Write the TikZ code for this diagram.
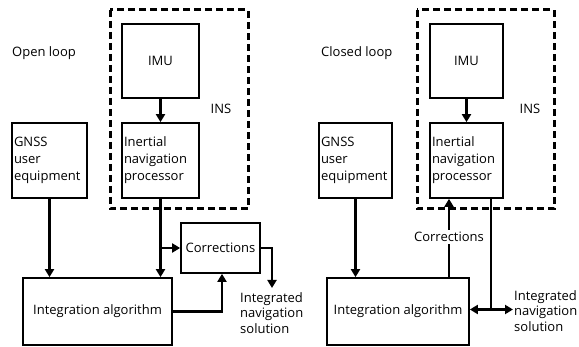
\documentclass[tikz,border=0pt]{standalone}
\usepackage{fontspec}
\setmainfont{Open Sans}
\usetikzlibrary{arrows.meta}
\begin{document}
\begin{tikzpicture}[x=1pt,y=-1pt,
  box/.style={draw, line width=1.7pt, inner sep=0pt, font=\fontsize{13}{17}\selectfont},
  tbox/.style={box, inner xsep=2pt, align=left},
  arr/.style={line width=2.4pt, -{Triangle[length=8pt,width=9pt]}},
  darr/.style={line width=2.4pt, {Triangle[length=8pt,width=9pt]}-{Triangle[length=8pt,width=9pt]}},
  ln/.style={line width=2.4pt},
  frame/.style={draw, line width=3pt, dash pattern=on 7pt off 4pt},
  txt/.style={inner sep=0pt, font=\fontsize{13}{15.5}\selectfont, align=left}]
\useasboundingbox (0,0) rectangle (579,347);
\fill[white] (0,0) rectangle (579,347);

% ---------------- Left: open loop ----------------
\node[txt, anchor=west] (olab) at (12,53) {Open loop};
\draw[frame] (110,10) rectangle (248,209);
\node[box, minimum width=77pt, minimum height=74pt] (imuL) at (160.5,61) {IMU};
\node[tbox, minimum width=77pt, minimum height=75pt, text width=73pt] (inpL) at (160.5,160.5)
  {Inertial\\navigation\\processor};
\node[txt] (insL) at (221,109) {INS};
\node[tbox, minimum width=75pt, minimum height=75pt, text width=71pt] (gnssL) at (49.5,160.5)
  {GNSS\\user\\equipment};
\node[box, minimum width=79pt, minimum height=50pt] (corL) at (220.5,248) {Corrections};
\node[box, minimum width=149pt, minimum height=67pt] (intL) at (97.5,311.5) {Integration algorithm};
\node[txt, anchor=north west] (solL) at (240,292) {Integrated\\navigation\\solution};

\coordinate (brL) at (161,248);
\coordinate (upL) at (222,311.5);
\coordinate (outL) at (272,248);
\coordinate (endL) at (272,288);

\draw[arr] (imuL.south) -- (inpL.north);
\draw[arr] (inpL.south) -- (inpL.south |- intL.north);
\draw[arr] (brL) -- (corL.west);
\draw[arr] (gnssL.south) -- (gnssL.south |- intL.north);
\draw[arr] (intL.east |- upL) -- (upL) -- (upL |- corL.south);
\draw[arr] (corL.east) -- (outL) -- (endL);

% ---------------- Right: closed loop ----------------
\node[txt, anchor=west] (clab) at (321,53) {Closed loop};
\draw[frame] (417,10) rectangle (554,209);
\node[box, minimum width=73pt, minimum height=74pt] (imuR) at (466.5,61) {IMU};
\node[tbox, minimum width=73pt, minimum height=75pt, text width=69pt] (inpR) at (466.5,160.5)
  {Inertial\\navigation\\processor};
\node[txt] (insR) at (530,109) {INS};
\node[tbox, minimum width=73pt, minimum height=75pt, text width=69pt] (gnssR) at (355.5,160.5)
  {GNSS\\user\\equipment};
\node[box, minimum width=142pt, minimum height=67pt] (intR) at (398,311.5) {Integration algorithm};
\node[txt, anchor=north west] (solR) at (514,290) {Integrated\\navigation\\solution};

\coordinate (cR) at (449,278);
\coordinate (jR) at (491,309.5);
\coordinate (eR) at (513,309.5);

\node[txt, fill=white, inner sep=2pt] (corR) at (449,237) {Corrections};
\draw[ln] (cR |- intR.north) -- (corR.south);
\draw[arr] (corR.north) -- (cR |- inpR.south);
\draw[arr] (imuR.south) -- (inpR.north);
\draw[arr] (gnssR.south) -- (gnssR.south |- intR.north);
\draw[ln] (jR |- inpR.south) -- (jR);
\draw[darr] (intR.east |- jR) -- (eR);
\end{tikzpicture}
\end{document}
